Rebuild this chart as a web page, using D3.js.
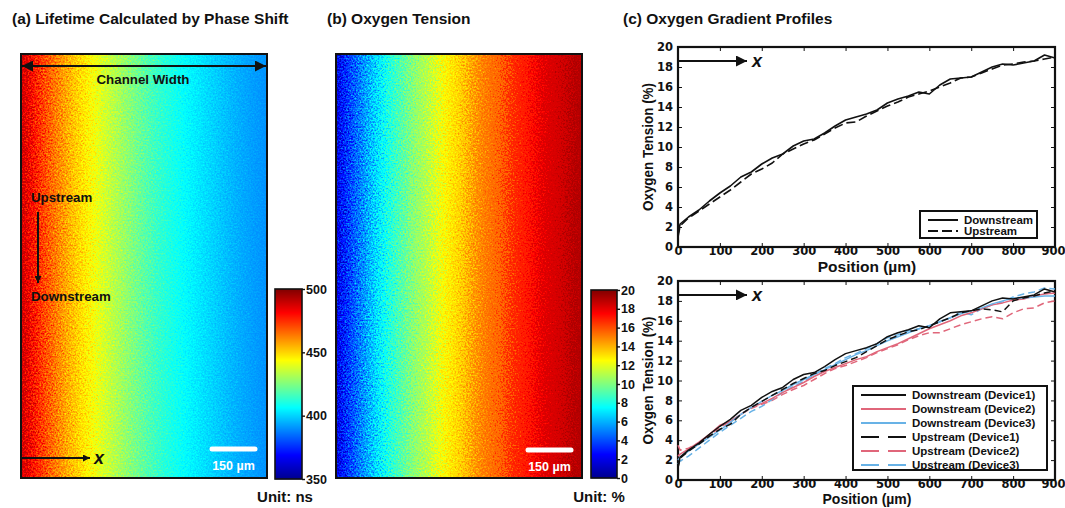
<!DOCTYPE html>
<html>
<head>
<meta charset="utf-8">
<script src="https://cdn.jsdelivr.net/npm/d3@7"></script>
<style>
  html, body { margin: 0; padding: 0; background: #fff; }
  svg text { font-family: "Liberation Sans", Arial, sans-serif; font-weight: bold; fill: #111; }
</style>
</head>
<body>
<svg id="fig" width="1065" height="508"></svg>
<script>
// ---- data -------------------------------------------------------------
// sampling positions across the channel (µm)
const positions = [0,5,25,50,75,100,125,150,175,200,225,250,275,300,325,350,375,400,425,450,
                   475,500,525,550,575,600,625,650,675,700,725,750,775,800,825,850,875,900];

// oxygen tension (%) profiles
const downstreamD1 = [1.3,2.3,3.0,3.7,4.6,5.4,6.1,7.0,7.5,8.3,8.9,9.3,10.1,10.6,10.8,11.4,12.1,12.7,13.0,13.3,
                      13.7,14.4,14.8,15.1,15.5,15.3,16.2,16.8,16.9,17.0,17.5,18.0,18.3,18.2,18.4,18.6,19.2,18.9];
const upstreamTop  = [1.0,2.1,2.9,3.6,4.3,5.0,5.7,6.5,7.3,7.8,8.4,9.3,9.8,10.3,10.7,11.3,11.9,12.4,12.5,13.1,
                      13.6,14.1,14.5,15.0,15.3,15.6,16.0,16.4,16.9,17.0,17.4,17.8,18.2,18.3,18.5,18.6,18.8,19.0];
const downstreamD2 = [2.4,2.6,3.1,3.8,4.6,5.5,5.9,6.6,7.3,7.7,8.2,8.8,9.3,9.8,10.4,10.9,11.3,11.7,12.1,12.4,
                      12.9,13.3,13.7,14.2,14.7,15.2,15.6,16.0,16.5,16.8,17.2,17.6,17.8,18.1,18.2,18.5,18.7,18.8];
const downstreamD3 = [2.0,2.3,2.9,3.6,4.3,5.0,5.8,6.6,7.3,7.9,8.5,9.0,9.6,10.1,10.6,11.1,11.6,12.1,12.6,13.0,
                      13.5,14.0,14.4,14.8,15.2,15.5,15.9,16.3,16.7,17.0,17.3,17.7,18.0,18.3,18.3,18.4,18.5,18.5];
const upstreamD1   = [1.2,2.2,2.9,3.6,4.4,5.1,5.6,6.6,7.3,7.9,8.5,9.1,9.7,10.2,10.7,11.0,11.5,11.9,12.3,12.9,
                      13.5,14.1,14.5,14.9,15.1,15.5,15.9,16.3,16.8,17.0,17.2,17.1,16.9,18.0,18.3,18.5,18.8,19.0];
const upstreamD2   = [3.5,3.0,3.2,3.7,4.5,5.3,5.9,6.6,7.2,7.6,8.0,8.6,9.1,9.5,10.1,10.7,11.2,11.5,11.9,12.3,
                      12.8,13.2,13.6,14.1,14.5,14.8,14.8,15.2,15.6,15.9,16.2,16.4,16.2,16.8,17.2,17.3,17.8,18.0];
const upstreamD3   = [1.6,1.9,2.4,3.2,4.0,4.8,5.5,6.2,6.9,7.4,8.1,8.8,9.4,9.9,10.6,11.2,11.7,12.3,12.7,13.2,
                      13.7,14.3,14.6,15.0,15.2,15.5,15.9,16.3,16.9,16.6,17.2,17.6,17.9,18.4,18.7,18.9,19.3,19.2];

// phosphorescence lifetime (ns) across the channel
const lifetimePos = [0,50,100,150,200,250,300,350,400,450,500,550,600,650,700,750,800,850,900];
const lifetimeNs  = [490,478,468,459,451,445,438,432,426,420,414,410,406,403,400,397,394,392,390];

// colour bar ticks
const lifetimeTicks = [350,400,450,500];
const oxygenTicks   = [0,2,4,6,8,10,12,14,16,18,20];
const positionTicks = [0,100,200,300,400,500,600,700,800,900];

// series in the multi-device plot
const deviceSeries = [
  { name: "Downstream (Device1)", values: downstreamD1, color: "#111111", dashed: false },
  { name: "Downstream (Device2)", values: downstreamD2, color: "#e0667a", dashed: false },
  { name: "Downstream (Device3)", values: downstreamD3, color: "#68b2e6", dashed: false },
  { name: "Upstream (Device1)",   values: upstreamD1,   color: "#111111", dashed: true },
  { name: "Upstream (Device2)",   values: upstreamD2,   color: "#e0667a", dashed: true },
  { name: "Upstream (Device3)",   values: upstreamD3,   color: "#68b2e6", dashed: true }
];

// ---- helpers ----------------------------------------------------------
const svg = d3.select("#fig");
const defs = svg.append("defs");

// jet colour map on [0,1]
const jet = d3.scaleLinear()
  .domain([0, 0.125, 0.375, 0.625, 0.875, 1])
  .range(["#00008f", "#0000ff", "#00ffff", "#ffff00", "#ff0000", "#800000"])
  .clamp(true);
const lifetimeColor = v => jet((v - 350) / 150);
const oxygenColor = v => jet(v / 20);

// speckle grain of the camera images
const grain = defs.append("filter").attr("id", "grain")
  .attr("x", "-5%").attr("y", "-5%").attr("width", "110%").attr("height", "110%")
  .attr("color-interpolation-filters", "sRGB");
grain.append("feTurbulence").attr("type", "fractalNoise").attr("baseFrequency", 0.6)
  .attr("numOctaves", 2).attr("seed", 7).attr("result", "noise");
grain.append("feDisplacementMap").attr("in", "SourceGraphic").attr("in2", "noise")
  .attr("scale", 60).attr("xChannelSelector", "R").attr("yChannelSelector", "G");

// arrow head markers
defs.append("marker").attr("id", "head").attr("viewBox", "0 0 10 10")
  .attr("refX", 10).attr("refY", 5).attr("markerWidth", 9).attr("markerHeight", 7)
  .attr("markerUnits", "userSpaceOnUse").attr("orient", "auto-start-reverse")
  .append("path").attr("d", "M0,0 L10,5 L0,10 Z").attr("fill", "#111");
defs.append("marker").attr("id", "headBig").attr("viewBox", "0 0 10 10")
  .attr("refX", 10).attr("refY", 5).attr("markerWidth", 16).attr("markerHeight", 11)
  .attr("markerUnits", "userSpaceOnUse").attr("orient", "auto-start-reverse")
  .append("path").attr("d", "M0,0 L10,5 L0,10 Z").attr("fill", "#111");

function heatmap(id, x0, y0, w, h, profX, profY, color) {
  const xs = d3.scaleLinear().domain([0, 900]).range([x0, x0 + w]);
  const prof = d3.scaleLinear().domain(profX).range(profY).clamp(true);
  defs.append("clipPath").attr("id", "clip-" + id)
    .append("rect").attr("x", x0).attr("y", y0).attr("width", w).attr("height", h);
  const cols = d3.range(x0 - 24, x0 + w + 24, 1);
  svg.append("g").attr("clip-path", "url(#clip-" + id + ")")
    .append("g").attr("filter", "url(#grain)")
    .selectAll("rect").data(cols).join("rect")
    .attr("x", d => d).attr("y", y0 - 24).attr("width", 1.3).attr("height", h + 48)
    .attr("fill", d => color(prof(xs.invert(d + 0.5))));
  svg.append("rect").attr("x", x0).attr("y", y0).attr("width", w).attr("height", h)
    .attr("fill", "none").attr("stroke", "#111").attr("stroke-width", 2);
}

function colorbar(x, yTop, yBot, w, domain, ticks, color) {
  const ys = d3.scaleLinear().domain(domain).range([yBot, yTop]);
  const g = svg.append("g");
  g.selectAll("rect.c").data(d3.range(yTop, yBot, 1)).join("rect").attr("class", "c")
    .attr("x", x).attr("y", d => d).attr("width", w).attr("height", 1.3)
    .attr("fill", d => color(ys.invert(d + 0.5)));
  g.append("rect").attr("x", x).attr("y", yTop).attr("width", w).attr("height", yBot - yTop)
    .attr("fill", "none").attr("stroke", "#111").attr("stroke-width", 1.6);
  const ax = svg.append("g").attr("transform", `translate(${x + w},0)`)
    .call(d3.axisRight(ys).tickValues(ticks).tickSizeInner(3).tickSizeOuter(0).tickPadding(1));
  ax.select(".domain").remove();
  ax.selectAll("line").attr("stroke", "#111").attr("stroke-width", 1.4);
  ax.selectAll("text").attr("font-size", 12.5).attr("font-family", null).attr("fill", "#111");
}

function scaleBar(x0, x1, y, label) {
  svg.append("line").attr("x1", x0).attr("x2", x1).attr("y1", y).attr("y2", y)
    .attr("stroke", "#fff").attr("stroke-width", 5).attr("stroke-linecap", "round");
  svg.append("text").attr("x", (x0 + x1) / 2).attr("y", y + 21).attr("text-anchor", "middle")
    .attr("font-size", 12.5).style("fill", "#fff").text(label);
}

// ---- titles -------------------------------------------------------------
svg.append("text").attr("x", 12).attr("y", 24).attr("font-size", 15.5).text("(a) Lifetime Calculated by Phase Shift");
svg.append("text").attr("x", 327).attr("y", 24).attr("font-size", 15.5).text("(b) Oxygen Tension");
svg.append("text").attr("x", 623).attr("y", 24).attr("font-size", 15.5).text("(c) Oxygen Gradient Profiles");

// ---- (a) lifetime image -----------------------------------------------
heatmap("a", 21, 54, 246, 424, lifetimePos, lifetimeNs, lifetimeColor);
colorbar(275, 289, 479, 27, [350, 500], lifetimeTicks, lifetimeColor);
svg.append("text").attr("x", 285).attr("y", 502).attr("text-anchor", "middle").attr("font-size", 15).text("Unit: ns");
scaleBar(212, 255, 449, "150 µm");

// annotations on the lifetime image
svg.append("line").attr("x1", 22).attr("x2", 266).attr("y1", 66).attr("y2", 66)
  .attr("stroke", "#111").attr("stroke-width", 2)
  .attr("marker-start", "url(#headBig)").attr("marker-end", "url(#headBig)");
svg.append("text").attr("x", 143).attr("y", 84).attr("text-anchor", "middle").attr("font-size", 13.3).text("Channel Width");
svg.append("text").attr("x", 31).attr("y", 202).attr("font-size", 13.3).text("Upstream");
svg.append("line").attr("x1", 38).attr("x2", 38).attr("y1", 212).attr("y2", 283)
  .attr("stroke", "#111").attr("stroke-width", 2).attr("marker-end", "url(#head)");
svg.append("text").attr("x", 31).attr("y", 301).attr("font-size", 13.3).text("Downstream");
svg.append("line").attr("x1", 21).attr("x2", 90).attr("y1", 458).attr("y2", 458)
  .attr("stroke", "#111").attr("stroke-width", 2).attr("marker-end", "url(#head)");
svg.append("text").attr("x", 94).attr("y", 464).attr("font-size", 18).attr("font-style", "italic").text("x");

// ---- (b) oxygen image ---------------------------------------------------
heatmap("b", 336, 54, 246, 424, positions, downstreamD1, oxygenColor);
colorbar(591, 290, 478, 26, [0, 20], oxygenTicks, oxygenColor);
svg.append("text").attr("x", 599).attr("y", 502).attr("text-anchor", "middle").attr("font-size", 15).text("Unit: %");
scaleBar(528, 571, 450, "150 µm");

// ---- (c) profile plots ----------------------------------------------------
const xC = d3.scaleLinear().domain([0, 900]).range([678, 1055]);

function profilePlot(yTop, yBot, titleY, titleSize) {
  const y = d3.scaleLinear().domain([0, 20]).range([yBot, yTop]);
  const g = svg.append("g");
  const styleAxis = (sel, labels) => {
    sel.select(".domain").remove();
    sel.selectAll("line").attr("stroke", "#111").attr("stroke-width", 1);
    sel.selectAll("text").attr("font-family", null).attr("font-size", labels ? 11.5 : 0)
      .style("font-family", '"DejaVu Sans", sans-serif').attr("fill", "#111");
  };
  g.append("g").attr("transform", `translate(0,${yBot})`)
    .call(d3.axisBottom(xC).tickValues(positionTicks).tickSize(-4).tickPadding(0))
    .call(s => styleAxis(s, true))
    .call(s => s.selectAll("text").filter(d => d === 900).attr("dx", -2));
  g.append("g").attr("transform", `translate(0,${yTop})`)
    .call(d3.axisTop(xC).tickValues(positionTicks).tickSize(-4).tickFormat(""))
    .call(s => styleAxis(s, false));
  g.append("g").attr("transform", `translate(${xC.range()[0]},0)`)
    .call(d3.axisLeft(y).tickValues(oxygenTicks).tickSize(-4).tickPadding(5))
    .call(s => styleAxis(s, true));
  g.append("g").attr("transform", `translate(${xC.range()[1]},0)`)
    .call(d3.axisRight(y).tickValues(oxygenTicks).tickSize(-4).tickFormat(""))
    .call(s => styleAxis(s, false));
  g.append("rect").attr("x", xC.range()[0]).attr("y", yTop)
    .attr("width", xC.range()[1] - xC.range()[0]).attr("height", yBot - yTop)
    .attr("fill", "none").attr("stroke", "#111").attr("stroke-width", 2.2);
  // axis titles
  const yMid = (yTop + yBot) / 2;
  svg.append("text").attr("transform", `translate(653,${yMid}) rotate(-90)`)
    .attr("text-anchor", "middle").attr("font-size", 15.5)
    .attr("textLength", 128).attr("lengthAdjust", "spacingAndGlyphs")
    .text("Oxygen Tension (%)");
  svg.append("text").attr("x", 867).attr("y", titleY).attr("text-anchor", "middle")
    .attr("font-size", titleSize).text("Position (µm)");
  // flow-direction arrow
  const ay = y(18.6);
  svg.append("line").attr("x1", xC.range()[0]).attr("x2", 747).attr("y1", ay).attr("y2", ay)
    .attr("stroke", "#111").attr("stroke-width", 2).attr("marker-end", "url(#headBig)");
  svg.append("text").attr("x", 752).attr("y", ay + 6).attr("font-size", 18).attr("font-style", "italic").text("x");
  return y;
}

function drawSeries(y, values, color, dash, width) {
  const line = d3.line().x(d => xC(d[0])).y(d => y(d[1]));
  svg.append("path").datum(positions.map((p, i) => [p, values[i]]))
    .attr("d", line).attr("fill", "none").attr("stroke", color)
    .attr("stroke-width", width).attr("stroke-dasharray", dash || null)
    .attr("stroke-linejoin", "round");
}

function legend(x0, y0, w, h, rows, rowGap, lineLen, fontSize, dash) {
  svg.append("rect").attr("x", x0).attr("y", y0).attr("width", w).attr("height", h)
    .attr("fill", "#fff").attr("stroke", "#111").attr("stroke-width", 2);
  rows.forEach((r, i) => {
    const cy = y0 + 9 + i * rowGap;
    svg.append("line").attr("x1", x0 + 8).attr("x2", x0 + 8 + lineLen).attr("y1", cy).attr("y2", cy)
      .attr("stroke", r.color).attr("stroke-width", 2).attr("stroke-dasharray", r.dashed ? dash : null);
    svg.append("text").attr("x", x0 + 8 + lineLen + 6).attr("y", cy).attr("dy", "0.36em")
      .attr("font-size", fontSize).text(r.name);
  });
}

// top: single device, downstream vs upstream
const yTopPlot = profilePlot(47, 247, 272, 15.5);
drawSeries(yTopPlot, upstreamTop, "#111", "9,4", 1.6);
drawSeries(yTopPlot, downstreamD1, "#111", null, 1.6);
legend(920, 211, 117, 27, [
  { name: "Downstream", color: "#111", dashed: false },
  { name: "Upstream", color: "#111", dashed: true }
], 11, 30, 11.5, "10,4");

// bottom: three devices
const yBotPlot = profilePlot(281, 480, 503.5, 14);
[4, 5, 1, 2, 3, 0].forEach(i => {
  const s = deviceSeries[i];
  drawSeries(yBotPlot, s.values, s.color, s.dashed ? "7,4" : null, 1.5);
});
legend(853, 386, 194, 84, deviceSeries, 14, 45, 11.5, "18,9");
</script>
</body>
</html>
